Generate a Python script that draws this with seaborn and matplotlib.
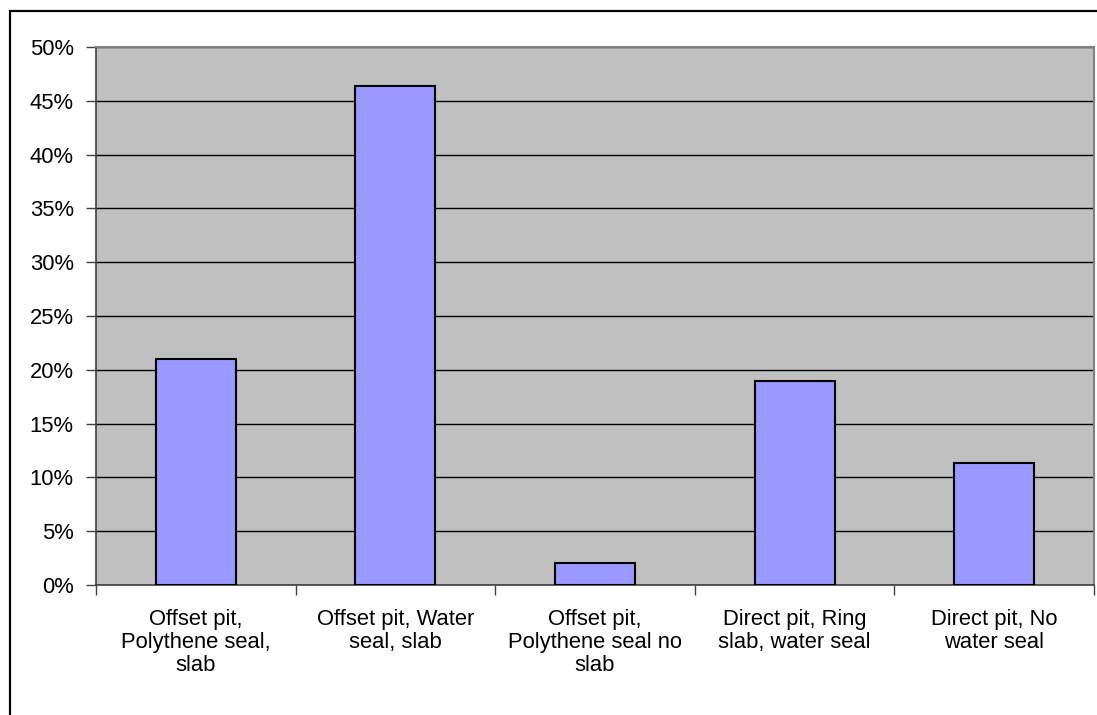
import matplotlib
matplotlib.use("Agg")
import matplotlib.pyplot as plt
from matplotlib.patches import Rectangle
from matplotlib.ticker import FuncFormatter, FixedLocator
import seaborn as sns
import pandas as pd

categories = [
    "Offset pit,\nPolythene seal,\nslab",
    "Offset pit, Water\nseal, slab",
    "Offset pit,\nPolythene seal no\nslab",
    "Direct pit, Ring\nslab, water seal",
    "Direct pit, No\nwater seal",
]
values = [21.0, 46.4, 2.0, 19.0, 11.3]
yticks = [0, 5, 10, 15, 20, 25, 30, 35, 40, 45, 50]

sns.set_theme(style="white")
plt.rcParams["font.family"] = ["Liberation Sans", "DejaVu Sans"]

W, H = 1097, 715
fig = plt.figure(figsize=(W / 100, H / 100), dpi=100)
ax = fig.add_axes([96 / W, 1 - 585 / H, (1094 - 96) / W, (585 - 47) / H])
ax.set_facecolor("#C0C0C0")

df = pd.DataFrame({"cat": categories, "val": values})
sns.barplot(data=df, x="cat", y="val", ax=ax, color="#9999FF", saturation=1,
            width=0.4, edgecolor="black", linewidth=1.5, zorder=3)

ax.set_xlim(-0.5, len(categories) - 0.5)
ax.set_ylim(0, 50)
ax.set_yticks(yticks)
ax.yaxis.set_major_formatter(FuncFormatter(lambda v, p: f"{int(v)}%"))
ax.grid(axis="y", color="black", linewidth=1.0, zorder=1)
ax.set_axisbelow(True)
ax.set_xlabel("")
ax.set_ylabel("")

ax.tick_params(axis="y", which="major", direction="out", length=7, width=1,
               color="#404040", labelsize=15.8, pad=9, labelcolor="black", left=True)
ax.tick_params(axis="x", which="major", length=0, labelsize=15.8, pad=17,
               labelcolor="black", bottom=True)
ax.xaxis.set_minor_locator(FixedLocator([i - 0.5 for i in range(len(categories) + 1)]))
ax.tick_params(axis="x", which="minor", direction="out", length=7, width=1,
               color="#404040", bottom=True)
for lbl in ax.get_xticklabels():
    lbl.set_linespacing(1.15)
    lbl.set_ha("center")

for side in ["left", "bottom"]:
    ax.spines[side].set_color("#404040")
    ax.spines[side].set_linewidth(1.2)
for side in ["top", "right"]:
    ax.spines[side].set_color("#808080")
    ax.spines[side].set_linewidth(1.5)

frame = Rectangle((9.5 / W, -0.1), 2.0, 1 - 10.5 / H + 0.1, transform=fig.transFigure,
                  fill=False, edgecolor="black", linewidth=1.6)
fig.patches.append(frame)

fig.savefig("out.png", dpi=100)
